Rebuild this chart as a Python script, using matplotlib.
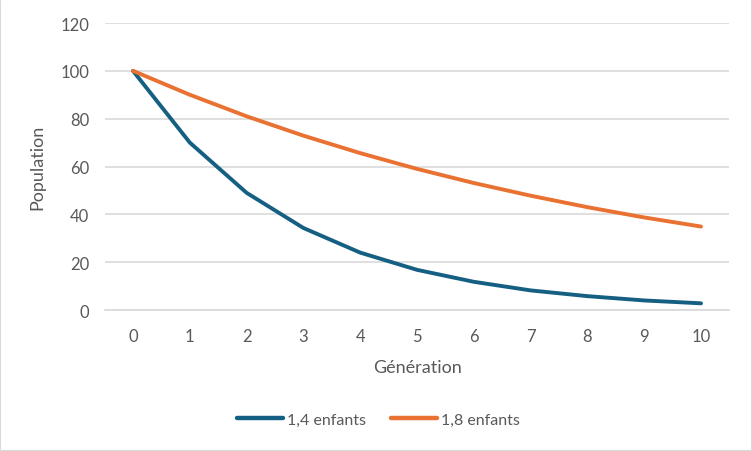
import matplotlib
matplotlib.use("Agg")
import matplotlib.pyplot as plt
from matplotlib.patches import Rectangle
from matplotlib.lines import Line2D

generations = [0, 1, 2, 3, 4, 5, 6, 7, 8, 9, 10]
pop_14 = [100, 70, 49, 34.3, 24.0, 16.8, 11.8, 8.2, 5.8, 4.0, 2.8]
pop_18 = [100, 90, 81, 72.9, 65.6, 59.0, 53.1, 47.8, 43.0, 38.7, 34.9]
series_names = ["1,4 enfants", "1,8 enfants"]
y_ticks = [0, 20, 40, 60, 80, 100, 120]

BLUE, ORANGE, TXT, GRID = "#156082", "#E97132", "#595959", "#D9D9D9"
plt.rcParams["font.family"] = ["Lato", "DejaVu Sans"]

fig = plt.figure(figsize=(7.52, 4.52), dpi=100)
fig.patches.append(Rectangle((0, 0), 1, 1, transform=fig.transFigure,
                             fill=False, ec=GRID, lw=1.5))
ax = fig.add_axes([0.1391, 0.3119, 0.8309, 0.635])

ax.plot(generations, pop_14, color=BLUE, lw=2.8, solid_capstyle="round",
        solid_joinstyle="round", zorder=3)
ax.plot(generations, pop_18, color=ORANGE, lw=2.8, solid_capstyle="round",
        solid_joinstyle="round", zorder=3)

ax.set_xlim(-0.5, 10.5)
ax.set_ylim(0, 120)
ax.set_yticks(y_ticks)
ax.set_xticks(generations)
ax.grid(axis="y", color=GRID, lw=1.2)
ax.set_axisbelow(True)
for s in ["top", "right", "left"]:
    ax.spines[s].set_visible(False)
ax.spines["bottom"].set_color(GRID)
ax.spines["bottom"].set_linewidth(1.2)
ax.tick_params(length=0, colors=TXT, labelsize=12)
ax.tick_params(axis="x", pad=13)
ax.tick_params(axis="y", pad=11)
ax.set_xlabel("Génération", color=TXT, fontsize=13, labelpad=11)
ax.set_ylabel("Population", color=TXT, fontsize=13, labelpad=11)

handles = [Line2D([], [], color=c, lw=3.2, solid_capstyle="round") for c in (BLUE, ORANGE)]
leg = fig.legend(handles, series_names, loc="center", bbox_to_anchor=(0.503, 0.069),
                 ncol=2, frameon=False, fontsize=11.5, handlelength=2.9,
                 handletextpad=0.2, columnspacing=1.6, labelcolor=TXT)

fig.savefig("out.png", dpi=100)
